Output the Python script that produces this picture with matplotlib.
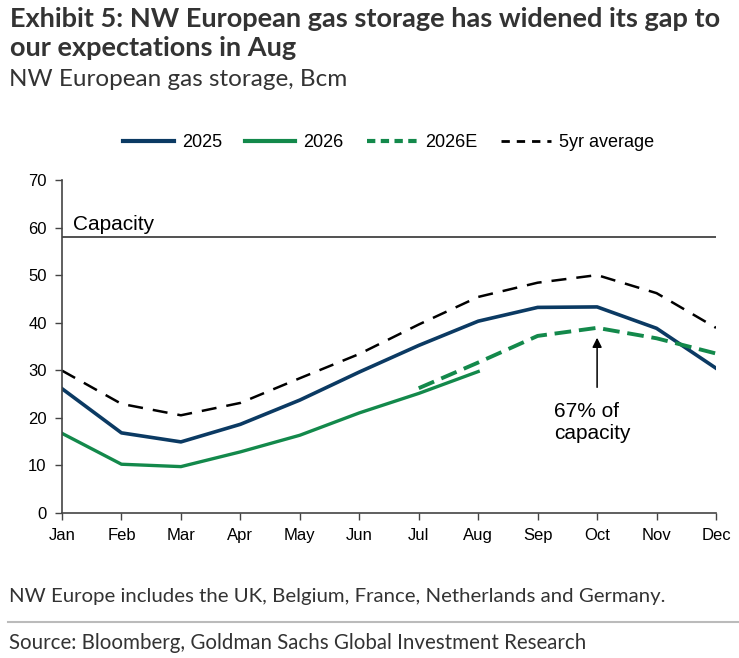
import matplotlib.pyplot as plt
from matplotlib.lines import Line2D

months = ["Jan", "Feb", "Mar", "Apr", "May", "Jun", "Jul", "Aug", "Sep", "Oct", "Nov", "Dec"]

storage_2025 = [26.1, 16.8, 14.9, 18.6, 23.7, 29.6, 35.2, 40.3, 43.2, 43.3, 38.8, 30.4]
storage_2026 = [16.7, 10.2, 9.7, 12.8, 16.3, 21.0, 25.1, 29.7]
storage_2026e = [26.2, 31.6, 37.2, 38.9, 36.7, 33.5]  # Jul..Dec
avg_5yr = [29.9, 22.9, 20.5, 23.1, 28.3, 33.4, 39.6, 45.4, 48.4, 50.0, 46.2, 38.9]
capacity = 58

navy = "#0b3a63"
green = "#13894b"
txt = "#333333"

plt.rcParams['font.family'] = ['Liberation Sans', 'DejaVu Sans']

fig = plt.figure(figsize=(7.39, 6.58), dpi=100)
ax = fig.add_axes([0.0839, 0.2208, 0.885, 0.5056])

x = list(range(len(months)))
ax.plot(x, avg_5yr, color="black", lw=1.8, dashes=(6, 4))
ax.plot(x, storage_2025, color=navy, lw=2.6)
ax.plot(x[:len(storage_2026)], storage_2026, color=green, lw=2.4)
ax.plot(x[6:], storage_2026e, color=green, lw=2.8, dashes=(4.3, 2))
ax.axhline(capacity, color="#222222", lw=1.1)
ax.text(0.18, capacity + 0.6, "Capacity", fontsize=15, va="bottom", ha="left")

ax.annotate("", xy=(9, 37.4), xytext=(9, 25.8),
            arrowprops=dict(arrowstyle="-|>", color="black", lw=1.1, mutation_scale=14))
ax.text(8.28, 23.3, "67% of\ncapacity", fontsize=15, va="top", ha="left", linespacing=1.2)

ax.set_xlim(0, 11)
ax.set_ylim(0, 70)
ax.set_xticks(x)
ax.set_xticklabels(months)
ax.set_yticks(range(0, 71, 10))
ax.tick_params(labelsize=12, length=5, width=1, color="#444444", pad=6)
for s in ["top", "right"]:
    ax.spines[s].set_visible(False)
for s in ["left", "bottom"]:
    ax.spines[s].set_color("#444444")
    ax.spines[s].set_linewidth(1.2)

handles = [
    Line2D([], [], color=navy, lw=3),
    Line2D([], [], color=green, lw=3),
    Line2D([], [], color=green, lw=3, dashes=(2, 1.3)),
    Line2D([], [], color="black", lw=2, dashes=(3, 2.5)),
]
fig.legend(handles, ["2025", "2026", "2026E", "5yr average"], loc="center",
           bbox_to_anchor=(0.526, 0.783), ncol=4, frameon=False, fontsize=13,
           handlelength=2.8, handletextpad=0.45, columnspacing=1.27)

fig.text(0.014, 0.99, "Exhibit 5: NW European gas storage has widened its gap to\nour expectations in Aug",
         fontsize=19.5, fontweight="bold", family="Lato", color=txt, va="top", linespacing=1.25)
fig.text(0.012, 0.879, "NW European gas storage, Bcm", fontsize=17.5, family="Lato", color=txt, va="center")
fig.text(0.012, 0.094, "NW Europe includes the UK, Belgium, France, Netherlands and Germany.",
         fontsize=14.7, family="Lato", color=txt, va="center")
fig.add_artist(Line2D([0.011, 1.0], [0.055, 0.055], color="#bbbbbb", lw=1.5))
fig.text(0.012, 0.023, "Source: Bloomberg, Goldman Sachs Global Investment Research",
         fontsize=14.8, family="Lato", color=txt, va="center")

fig.savefig("out.png", dpi=100)
